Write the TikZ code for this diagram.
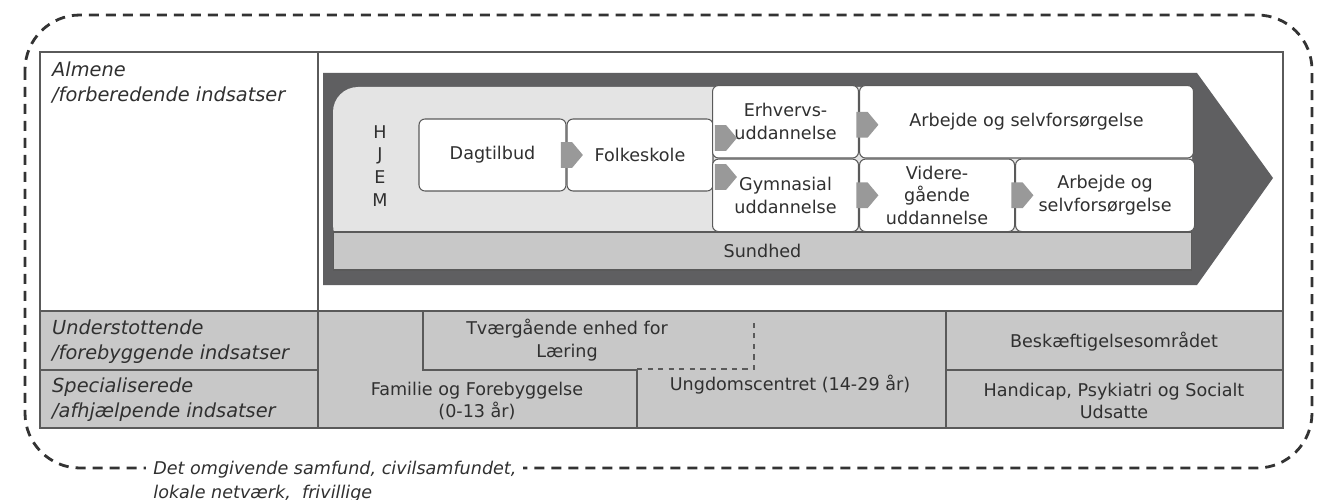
\documentclass[tikz,border=0pt]{standalone}
\usepackage{fontspec}
\setmainfont{DejaVu Sans}
\usepackage{xcolor}
\usepackage{tikz}
\usetikzlibrary{shapes.arrows,positioning}

\definecolor{darkband}{HTML}{5F5F61}
\definecolor{hjemgray}{HTML}{E4E4E4}
\definecolor{midgray}{HTML}{C8C8C8}
\definecolor{linegray}{HTML}{5A5A5A}
\definecolor{textgray}{HTML}{303030}
\definecolor{flowgray}{HTML}{999999}

\begin{document}
\begin{tikzpicture}[
    x=0.02cm, y=-0.02cm,
    every node/.style={text=textgray, font=\fontsize{10}{13}\selectfont},
    box/.style={rectangle, draw=linegray, fill=white, rounded corners=0.12cm, align=center, inner sep=2pt, line width=0.6pt},
    flow/.style={single arrow, fill=flowgray, inner xsep=0pt, inner ysep=0.25cm, minimum width=0.5cm, minimum height=0.44cm, single arrow head extend=0pt, single arrow tip angle=100},
    lbl/.style={anchor=north west, align=left, font=\fontsize{11}{14}\selectfont\itshape},
    cell/.style={align=center},
    tline/.style={draw=linegray, line width=0.9pt},
    samfundline/.style={draw=black!80, line width=1.6pt, dash pattern=on 0.2cm off 0.14cm, rounded corners=1.1cm}
]
\useasboundingbox (0,0) rectangle (1322,500);

% Surrounding society
\draw[samfundline] (25,15) rectangle (1312,468);

% Table
\fill[white] (40,52) rectangle (1283,311);
\fill[midgray] (40,311) rectangle (1283,428);
\draw[tline] (40,52) rectangle (1283,428);
\draw[tline] (318,52) -- (318,428);
\draw[tline] (40,311) -- (1283,311);
\draw[tline] (40,370) -- (318,370);
\draw[tline] (423,311) -- (423,370) -- (637,370) -- (637,428);
\draw[tline] (946,311) -- (946,428);
\draw[tline] (946,370) -- (1283,370);
\draw[tline, dashed] (637,369) -- (754,369) -- (754,320);

% Big arrow
\fill[darkband] (323,73) -- (1197,73) -- (1273,178) -- (1197,285) -- (323,285) -- cycle;
\fill[hjemgray, rounded corners=0.5cm] (333,87) rectangle (1192,250);
\node[draw=linegray, fill=midgray, line width=0.6pt, minimum width=17.18cm, minimum height=0.76cm] (sund) at (762.5,251) {Sundhed};

% Nodes
\node[align=center] (hjem) at (380,166) {H\\J\\E\\M};
\node[box, minimum width=2.94cm, minimum height=1.44cm] (dag) at (492.5,155) {Dagtilbud};
\node[box, minimum width=2.92cm, minimum height=1.44cm, right=0pt of dag] (folk) {Folkeskole};
\node[box, minimum width=2.92cm, minimum height=1.45cm, anchor=north west] (erhv) at (712,85) {Erhvervs-\\uddannelse};
\node[box, minimum width=2.92cm, minimum height=1.45cm, below=0pt of erhv] (gym) {Gymnasial\\uddannelse};
\node[box, minimum width=6.68cm, minimum height=1.45cm, right=0pt of erhv] (arb1) {Arbejde og selvforsørgelse};
\node[box, minimum width=3.1cm, minimum height=1.45cm, right=0pt of gym] (vid) {Videre-\\gående\\uddannelse};
\node[box, minimum width=3.58cm, minimum height=1.45cm, right=0pt of vid] (arb2) {Arbejde og\\selvforsørgelse};

% Arrows
\node[flow] (f1) at (dag.east) {};
\node[flow, xshift=0.14cm, yshift=0.34cm] (f2) at (folk.east) {};
\node[flow, xshift=0.14cm, yshift=-0.44cm] (f3) at (folk.east) {};
\node[flow, xshift=0.06cm, yshift=-0.06cm] (f4) at (erhv.east) {};
\node[flow, xshift=0.06cm] (f5) at (gym.east) {};
\node[flow, xshift=0.04cm] (f6) at (vid.east) {};

% Labels
\node[lbl] (almene) at (46,56) {Almene\\/forberedende indsatser};
\node[lbl] (under) at (46,314) {Understottende\\/forebyggende indsatser};
\node[lbl] (spec) at (46,372) {Specialiserede\\/afhjælpende indsatser};

\node[cell] (tvaer) at (567,340) {Tværgående enhed for\\Læring};
\node[cell] (familie) at (477,401) {Familie og Forebyggelse\\(0-13 år)};
\node[cell] (ungdom) at (790,385) {Ungdomscentret (14-29 år)};
\node[cell] (beskaef) at (1114,342) {Beskæftigelsesområdet};
\node[cell] (handicap) at (1114,401) {Handicap, Psykiatri og Socialt\\Udsatte};

\node[anchor=north west, fill=white, align=left, inner xsep=4pt, font=\fontsize{10}{13.5}\selectfont\itshape] (samfund) at (146,455) {Det omgivende samfund, civilsamfundet,\\lokale netværk,~ frivillige};

\end{tikzpicture}
\end{document}
